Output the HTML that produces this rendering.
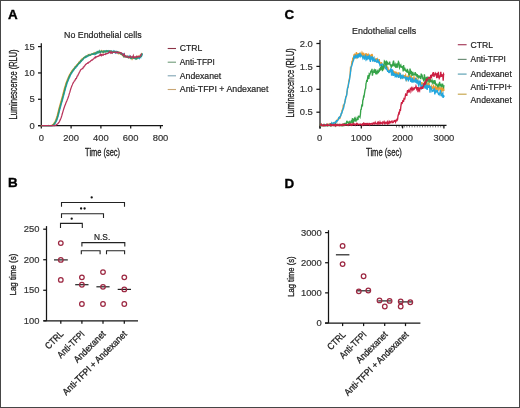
<!DOCTYPE html>
<html><head><meta charset="utf-8"><style>
html,body{margin:0;padding:0;background:#fff;}
body{width:520px;height:408px;overflow:hidden;}
svg{display:block;will-change:transform;}
text{font-family:"Liberation Sans", sans-serif;}
</style></head><body>
<svg width="520" height="408" viewBox="0 0 520 408">
<rect x="0" y="0" width="520" height="408" fill="#fff"/>
<text x="8.0" y="18.8" font-size="13.4" text-anchor="start" font-weight="bold" fill="#000" stroke="#000" stroke-width="0.35">A</text>
<text x="102.8" y="37.8" font-size="9.7" text-anchor="middle" font-weight="normal" fill="#222" textLength="77.5" lengthAdjust="spacingAndGlyphs" stroke="#222" stroke-width="0.2">No Endothelial cells</text>
<line x1="41.3" y1="43.3" x2="41.3" y2="126.19999999999999" stroke="#151515" stroke-width="1.25"/>
<line x1="38.0" y1="125.6" x2="41.3" y2="125.6" stroke="#151515" stroke-width="1.25"/>
<text x="34.8" y="128.79999999999998" font-size="9.4" text-anchor="end" font-weight="normal" fill="#333" stroke="#333" stroke-width="0.2">0</text>
<line x1="38.0" y1="99.26666666666667" x2="41.3" y2="99.26666666666667" stroke="#151515" stroke-width="1.25"/>
<text x="34.8" y="102.46666666666667" font-size="9.4" text-anchor="end" font-weight="normal" fill="#333" stroke="#333" stroke-width="0.2">5</text>
<line x1="38.0" y1="72.93333333333334" x2="41.3" y2="72.93333333333334" stroke="#151515" stroke-width="1.25"/>
<text x="34.8" y="76.13333333333334" font-size="9.4" text-anchor="end" font-weight="normal" fill="#333" stroke="#333" stroke-width="0.2">10</text>
<line x1="38.0" y1="46.599999999999994" x2="41.3" y2="46.599999999999994" stroke="#151515" stroke-width="1.25"/>
<text x="34.8" y="49.8" font-size="9.4" text-anchor="end" font-weight="normal" fill="#333" stroke="#333" stroke-width="0.2">15</text>
<line x1="38" y1="125.6" x2="163" y2="125.6" stroke="#151515" stroke-width="1.25"/>
<line x1="41.3" y1="125.6" x2="41.3" y2="128.6" stroke="#151515" stroke-width="1.25"/>
<text x="41.3" y="140.7" font-size="9.4" text-anchor="middle" font-weight="normal" fill="#333" stroke="#333" stroke-width="0.2">0</text>
<line x1="71.1" y1="125.6" x2="71.1" y2="128.6" stroke="#151515" stroke-width="1.25"/>
<text x="71.1" y="140.7" font-size="9.4" text-anchor="middle" font-weight="normal" fill="#333" stroke="#333" stroke-width="0.2">200</text>
<line x1="100.9" y1="125.6" x2="100.9" y2="128.6" stroke="#151515" stroke-width="1.25"/>
<text x="100.9" y="140.7" font-size="9.4" text-anchor="middle" font-weight="normal" fill="#333" stroke="#333" stroke-width="0.2">400</text>
<line x1="130.7" y1="125.6" x2="130.7" y2="128.6" stroke="#151515" stroke-width="1.25"/>
<text x="130.7" y="140.7" font-size="9.4" text-anchor="middle" font-weight="normal" fill="#333" stroke="#333" stroke-width="0.2">600</text>
<line x1="160.5" y1="125.6" x2="160.5" y2="128.6" stroke="#151515" stroke-width="1.25"/>
<text x="160.5" y="140.7" font-size="9.4" text-anchor="middle" font-weight="normal" fill="#333" stroke="#333" stroke-width="0.2">800</text>
<text x="102.6" y="155.6" font-size="10.6" text-anchor="middle" font-weight="normal" fill="#222" textLength="35" lengthAdjust="spacingAndGlyphs" stroke="#222" stroke-width="0.32">Time (sec)</text>
<text x="16.7" y="84.4" font-size="10.2" text-anchor="middle" font-weight="normal" fill="#222" textLength="70" lengthAdjust="spacingAndGlyphs" transform="rotate(-90 16.7 84.4)" stroke="#222" stroke-width="0.32">Luminescence (RLU)</text>
<path d="M40.70,125.60 L41.20,125.60 L41.70,125.60 L42.20,125.59 L42.70,125.60 L43.20,125.60 L43.70,125.59 L44.20,125.60 L44.70,125.60 L45.20,125.60 L45.70,125.60 L46.20,125.60 L46.70,125.59 L47.20,125.60 L47.70,125.59 L48.20,125.60 L48.70,125.60 L49.20,125.59 L49.70,125.58 L50.20,125.59 L50.70,125.60 L51.20,125.51 L51.70,125.40 L52.20,125.12 L52.70,124.59 L53.20,124.16 L53.70,123.67 L54.20,122.99 L54.70,122.23 L55.20,121.26 L55.70,120.22 L56.20,118.69 L56.70,117.22 L57.20,115.68 L57.70,113.68 L58.20,111.70 L58.70,109.60 L59.20,107.58 L59.70,105.91 L60.20,104.13 L60.70,102.22 L61.20,100.52 L61.70,98.83 L62.20,96.94 L62.70,95.14 L63.20,93.17 L63.70,91.18 L64.20,89.21 L64.70,87.54 L65.20,85.87 L65.70,84.17 L66.20,82.51 L66.70,81.44 L67.20,79.96 L67.70,78.98 L68.20,77.46 L68.70,76.71 L69.20,75.52 L69.70,74.35 L70.20,73.65 L70.70,72.89 L71.20,72.16 L71.70,71.17 L72.20,70.47 L72.70,70.07 L73.20,69.25 L73.70,68.75 L74.20,68.22 L74.70,67.04 L75.20,66.86 L75.70,66.50 L76.20,65.55 L76.70,64.86 L77.20,64.68 L77.70,63.99 L78.20,63.59 L78.70,62.71 L79.20,61.85 L79.70,61.66 L80.20,61.02 L80.70,60.82 L81.20,60.13 L81.70,59.11 L82.20,58.71 L82.70,58.80 L83.20,58.29 L83.70,57.50 L84.20,57.32 L84.70,57.13 L85.20,56.86 L85.70,56.74 L86.20,56.34 L86.70,56.02 L87.20,55.76 L87.70,55.96 L88.20,54.69 L88.70,55.17 L89.20,55.03 L89.70,54.36 L90.20,54.76 L90.70,54.25 L91.20,54.59 L91.70,54.09 L92.20,54.20 L92.70,54.23 L93.20,53.77 L93.70,53.15 L94.20,52.75 L94.70,53.77 L95.20,52.93 L95.70,52.57 L96.20,52.74 L96.70,52.48 L97.20,52.75 L97.70,52.33 L98.20,52.22 L98.70,51.83 L99.20,52.19 L99.70,51.50 L100.20,52.07 L100.70,52.33 L101.20,51.02 L101.70,50.56 L102.20,51.75 L102.70,52.48 L103.20,51.00 L103.70,50.86 L104.20,51.58 L104.70,50.96 L105.20,51.07 L105.70,51.12 L106.20,51.48 L106.70,51.10 L107.20,51.40 L107.70,51.23 L108.20,50.99 L108.70,51.25 L109.20,51.02 L109.70,51.47 L110.20,51.03 L110.70,51.09 L111.20,52.23 L111.70,51.64 L112.20,51.70 L112.70,52.00 L113.20,51.67 L113.70,51.82 L114.20,52.18 L114.70,52.18 L115.20,51.63 L115.70,52.59 L116.20,52.07 L116.70,51.97 L117.20,52.16 L117.70,52.52 L118.20,53.56 L118.70,52.47 L119.20,53.23 L119.70,52.42 L120.20,53.61 L120.70,54.29 L121.20,54.10 L121.70,54.26 L122.20,54.99 L122.70,55.53 L123.20,55.83 L123.70,56.70 L124.20,56.14 L124.70,55.97 L125.20,56.35 L125.70,56.52 L126.20,56.72 L126.70,56.76 L127.20,56.93 L127.70,56.15 L128.20,57.38 L128.70,56.79 L129.20,56.58 L129.70,57.51 L130.20,57.90 L130.70,57.59 L131.20,57.52 L131.70,57.08 L132.20,58.97 L132.70,58.12 L133.20,57.24 L133.70,57.50 L134.20,58.00 L134.70,57.29 L135.20,58.18 L135.70,57.89 L136.20,58.69 L136.70,58.52 L137.20,56.65 L137.70,57.85 L138.20,56.81 L138.70,57.86 L139.20,57.03 L139.70,56.72 L140.20,55.31 L140.70,56.30 L141.20,55.40 L141.70,52.87" fill="none" stroke="#eb9d33" stroke-width="1.3"/>
<path d="M41.80,125.60 L42.30,125.60 L42.80,125.60 L43.30,125.58 L43.80,125.60 L44.30,125.60 L44.80,125.60 L45.30,125.60 L45.80,125.60 L46.30,125.59 L46.80,125.60 L47.30,125.59 L47.80,125.59 L48.30,125.58 L48.80,125.60 L49.30,125.60 L49.80,125.60 L50.30,125.58 L50.80,125.60 L51.30,125.57 L51.80,125.60 L52.30,125.53 L52.80,125.36 L53.30,125.09 L53.80,124.66 L54.30,124.28 L54.80,123.78 L55.30,122.93 L55.80,122.12 L56.30,121.16 L56.80,120.16 L57.30,118.77 L57.80,117.33 L58.30,115.59 L58.80,113.65 L59.30,111.67 L59.80,109.63 L60.30,107.82 L60.80,105.78 L61.30,104.07 L61.80,102.38 L62.30,100.82 L62.80,98.74 L63.30,96.91 L63.80,95.08 L64.30,93.29 L64.80,91.14 L65.30,89.48 L65.80,87.16 L66.30,85.92 L66.80,84.30 L67.30,82.40 L67.80,81.35 L68.30,80.27 L68.80,78.85 L69.30,77.85 L69.80,77.01 L70.30,75.58 L70.80,74.54 L71.30,73.55 L71.80,73.02 L72.30,72.06 L72.80,71.34 L73.30,70.68 L73.80,70.18 L74.30,69.11 L74.80,68.34 L75.30,67.48 L75.80,67.71 L76.30,66.82 L76.80,66.58 L77.30,65.62 L77.80,64.87 L78.30,64.61 L78.80,63.90 L79.30,63.03 L79.80,62.56 L80.30,62.71 L80.80,61.78 L81.30,61.26 L81.80,60.53 L82.30,59.89 L82.80,59.81 L83.30,59.02 L83.80,58.33 L84.30,58.06 L84.80,57.42 L85.30,57.38 L85.80,57.34 L86.30,56.46 L86.80,56.92 L87.30,56.05 L87.80,56.10 L88.30,55.57 L88.80,55.55 L89.30,55.43 L89.80,55.07 L90.30,54.78 L90.80,54.60 L91.30,54.36 L91.80,53.93 L92.30,54.21 L92.80,54.27 L93.30,54.29 L93.80,54.03 L94.30,54.52 L94.80,53.58 L95.30,53.13 L95.80,53.83 L96.30,52.58 L96.80,53.19 L97.30,52.32 L97.80,52.69 L98.30,51.66 L98.80,52.67 L99.30,52.15 L99.80,51.73 L100.30,52.68 L100.80,52.21 L101.30,51.82 L101.80,51.41 L102.30,51.61 L102.80,51.49 L103.30,51.79 L103.80,51.77 L104.30,51.13 L104.80,51.15 L105.30,51.12 L105.80,50.75 L106.30,51.04 L106.80,51.23 L107.30,51.55 L107.80,51.82 L108.30,50.94 L108.80,51.54 L109.30,51.16 L109.80,52.26 L110.30,51.40 L110.80,51.68 L111.30,51.11 L111.80,51.21 L112.30,51.69 L112.80,51.49 L113.30,51.87 L113.80,51.11 L114.30,52.14 L114.80,51.53 L115.30,52.74 L115.80,51.94 L116.30,52.62 L116.80,51.61 L117.30,52.52 L117.80,52.05 L118.30,52.35 L118.80,52.71 L119.30,52.70 L119.80,53.11 L120.30,53.50 L120.80,53.66 L121.30,53.57 L121.80,53.28 L122.30,53.84 L122.80,54.45 L123.30,53.92 L123.80,55.56 L124.30,55.41 L124.80,55.69 L125.30,56.48 L125.80,56.55 L126.30,56.51 L126.80,56.09 L127.30,56.82 L127.80,56.93 L128.30,56.44 L128.80,57.41 L129.30,57.23 L129.80,56.14 L130.30,57.19 L130.80,56.61 L131.30,57.82 L131.80,57.74 L132.30,56.92 L132.80,57.10 L133.30,57.66 L133.80,57.58 L134.30,58.51 L134.80,58.23 L135.30,57.82 L135.80,58.32 L136.30,57.11 L136.80,58.26 L137.30,58.52 L137.80,57.96 L138.30,57.62 L138.80,58.10 L139.30,58.56 L139.80,57.42 L140.30,56.39 L140.80,57.17 L141.30,54.91 L141.80,55.65 L142.30,54.11 L142.80,53.86" fill="none" stroke="#22a6de" stroke-width="1.3"/>
<path d="M41.30,125.60 L41.80,125.59 L42.30,125.60 L42.80,125.60 L43.30,125.60 L43.80,125.60 L44.30,125.58 L44.80,125.60 L45.30,125.59 L45.80,125.60 L46.30,125.60 L46.80,125.59 L47.30,125.59 L47.80,125.58 L48.30,125.57 L48.80,125.59 L49.30,125.60 L49.80,125.59 L50.30,125.60 L50.80,125.59 L51.30,125.60 L51.80,125.58 L52.30,125.37 L52.80,125.05 L53.30,124.70 L53.80,124.26 L54.30,123.77 L54.80,123.00 L55.30,122.21 L55.80,121.31 L56.30,120.04 L56.80,118.74 L57.30,117.31 L57.80,115.58 L58.30,113.64 L58.80,111.70 L59.30,109.38 L59.80,107.83 L60.30,105.80 L60.80,103.94 L61.30,102.38 L61.80,100.68 L62.30,98.78 L62.80,96.91 L63.30,95.16 L63.80,93.15 L64.30,91.38 L64.80,89.39 L65.30,87.49 L65.80,85.91 L66.30,84.09 L66.80,82.49 L67.30,81.42 L67.80,80.15 L68.30,78.79 L68.80,77.51 L69.30,76.59 L69.80,75.03 L70.30,74.73 L70.80,73.81 L71.30,72.54 L71.80,72.12 L72.30,71.17 L72.80,70.87 L73.30,69.58 L73.80,69.15 L74.30,68.86 L74.80,68.32 L75.30,66.91 L75.80,66.69 L76.30,66.28 L76.80,65.47 L77.30,65.45 L77.80,64.19 L78.30,64.01 L78.80,63.09 L79.30,63.16 L79.80,62.23 L80.30,61.59 L80.80,60.68 L81.30,61.07 L81.80,60.29 L82.30,59.77 L82.80,59.37 L83.30,58.65 L83.80,57.91 L84.30,57.45 L84.80,57.08 L85.30,57.41 L85.80,56.27 L86.30,56.29 L86.80,56.16 L87.30,56.12 L87.80,56.02 L88.30,55.22 L88.80,54.85 L89.30,55.21 L89.80,55.42 L90.30,55.08 L90.80,54.72 L91.30,54.36 L91.80,54.40 L92.30,54.05 L92.80,54.25 L93.30,53.52 L93.80,53.68 L94.30,53.43 L94.80,53.50 L95.30,53.22 L95.80,53.92 L96.30,53.39 L96.80,53.25 L97.30,51.77 L97.80,52.30 L98.30,52.08 L98.80,52.42 L99.30,51.21 L99.80,52.48 L100.30,52.33 L100.80,51.28 L101.30,51.32 L101.80,51.31 L102.30,51.58 L102.80,51.76 L103.30,52.28 L103.80,51.32 L104.30,51.69 L104.80,51.40 L105.30,52.03 L105.80,51.59 L106.30,51.83 L106.80,50.81 L107.30,51.19 L107.80,50.94 L108.30,51.94 L108.80,51.62 L109.30,51.26 L109.80,51.23 L110.30,51.67 L110.80,51.21 L111.30,51.16 L111.80,51.81 L112.30,52.72 L112.80,51.61 L113.30,51.54 L113.80,51.35 L114.30,51.34 L114.80,52.22 L115.30,52.43 L115.80,52.14 L116.30,52.37 L116.80,52.38 L117.30,52.50 L117.80,51.89 L118.30,52.49 L118.80,52.89 L119.30,52.64 L119.80,52.95 L120.30,53.00 L120.80,53.46 L121.30,54.27 L121.80,54.02 L122.30,54.47 L122.80,55.25 L123.30,55.51 L123.80,56.30 L124.30,54.85 L124.80,56.44 L125.30,56.02 L125.80,56.47 L126.30,56.94 L126.80,57.17 L127.30,57.26 L127.80,56.92 L128.30,57.67 L128.80,56.86 L129.30,57.00 L129.80,57.51 L130.30,56.95 L130.80,58.30 L131.30,57.84 L131.80,58.47 L132.30,57.51 L132.80,57.43 L133.30,57.78 L133.80,58.13 L134.30,57.59 L134.80,58.14 L135.30,58.03 L135.80,58.87 L136.30,57.79 L136.80,58.61 L137.30,57.74 L137.80,57.50 L138.30,57.48 L138.80,57.01 L139.30,57.39 L139.80,57.45 L140.30,56.53 L140.80,56.15 L141.30,56.21 L141.80,54.53 L142.30,53.50" fill="none" stroke="#35986a" stroke-width="1.4"/>
<path d="M41.30,125.60 L41.80,125.60 L42.30,125.60 L42.80,125.60 L43.30,125.59 L43.80,125.60 L44.30,125.59 L44.80,125.60 L45.30,125.58 L45.80,125.60 L46.30,125.60 L46.80,125.60 L47.30,125.60 L47.80,125.60 L48.30,125.56 L48.80,125.60 L49.30,125.54 L49.80,125.60 L50.30,125.59 L50.80,125.57 L51.30,125.58 L51.80,125.57 L52.30,125.60 L52.80,125.60 L53.30,125.60 L53.80,125.52 L54.30,125.60 L54.80,125.52 L55.30,125.49 L55.80,125.13 L56.30,124.95 L56.80,124.61 L57.30,124.04 L57.80,123.69 L58.30,123.05 L58.80,122.54 L59.30,121.79 L59.80,120.70 L60.30,119.64 L60.80,118.47 L61.30,117.18 L61.80,115.65 L62.30,113.77 L62.80,112.10 L63.30,110.40 L63.80,108.76 L64.30,107.25 L64.80,105.83 L65.30,104.84 L65.80,103.23 L66.30,102.10 L66.80,101.04 L67.30,99.62 L67.80,98.44 L68.30,97.09 L68.80,95.69 L69.30,93.61 L69.80,92.40 L70.30,90.31 L70.80,88.76 L71.30,87.40 L71.80,86.00 L72.30,84.88 L72.80,83.64 L73.30,82.69 L73.80,82.00 L74.30,80.98 L74.80,80.76 L75.30,79.54 L75.80,78.63 L76.30,78.59 L76.80,77.19 L77.30,76.01 L77.80,75.81 L78.30,74.26 L78.80,73.66 L79.30,72.27 L79.80,71.59 L80.30,70.44 L80.80,69.67 L81.30,69.28 L81.80,68.96 L82.30,68.66 L82.80,68.58 L83.30,67.06 L83.80,67.12 L84.30,66.13 L84.80,65.76 L85.30,64.85 L85.80,64.35 L86.30,64.09 L86.80,63.50 L87.30,63.43 L87.80,62.80 L88.30,63.03 L88.80,62.30 L89.30,61.94 L89.80,61.90 L90.30,61.34 L90.80,60.78 L91.30,60.39 L91.80,60.00 L92.30,60.03 L92.80,59.54 L93.30,59.00 L93.80,58.76 L94.30,57.90 L94.80,57.93 L95.30,56.90 L95.80,57.63 L96.30,56.89 L96.80,56.68 L97.30,56.62 L97.80,56.17 L98.30,55.87 L98.80,56.22 L99.30,55.58 L99.80,54.97 L100.30,55.33 L100.80,54.29 L101.30,55.48 L101.80,54.60 L102.30,54.55 L102.80,55.33 L103.30,55.16 L103.80,54.21 L104.30,54.30 L104.80,54.36 L105.30,54.49 L105.80,53.62 L106.30,53.60 L106.80,53.93 L107.30,53.41 L107.80,53.48 L108.30,53.29 L108.80,52.44 L109.30,52.45 L109.80,51.60 L110.30,52.53 L110.80,53.15 L111.30,52.05 L111.80,53.02 L112.30,52.89 L112.80,52.41 L113.30,52.40 L113.80,52.41 L114.30,51.99 L114.80,52.23 L115.30,52.33 L115.80,52.63 L116.30,52.73 L116.80,52.08 L117.30,52.80 L117.80,52.12 L118.30,52.42 L118.80,52.70 L119.30,52.60 L119.80,52.63 L120.30,52.92 L120.80,52.68 L121.30,52.83 L121.80,53.31 L122.30,54.20 L122.80,54.16 L123.30,55.52 L123.80,55.20 L124.30,54.17 L124.80,55.70 L125.30,56.95 L125.80,56.39 L126.30,56.31 L126.80,56.18 L127.30,57.27 L127.80,57.19 L128.30,57.09 L128.80,57.02 L129.30,57.52 L129.80,57.26 L130.30,56.31 L130.80,57.27 L131.30,57.01 L131.80,56.90 L132.30,57.34 L132.80,57.01 L133.30,55.62 L133.80,57.79 L134.30,57.56 L134.80,57.03 L135.30,56.94 L135.80,57.23 L136.30,56.48 L136.80,57.21 L137.30,56.87 L137.80,56.71 L138.30,56.30 L138.80,56.23 L139.30,56.84 L139.80,56.63 L140.30,55.83 L140.80,55.22 L141.30,54.20 L141.80,54.40" fill="none" stroke="#b8325a" stroke-width="1.25"/>
<line x1="167.7" y1="48.5" x2="176.0" y2="48.5" stroke="#8c3346" stroke-width="1.1"/>
<text x="179.8" y="51.3" font-size="9.7" text-anchor="start" font-weight="normal" fill="#222" textLength="22.5" lengthAdjust="spacingAndGlyphs" stroke="#222" stroke-width="0.2">CTRL</text>
<line x1="167.7" y1="62.2" x2="176.0" y2="62.2" stroke="#6f9b78" stroke-width="1.1"/>
<text x="179.8" y="65.0" font-size="9.7" text-anchor="start" font-weight="normal" fill="#222" textLength="35.0" lengthAdjust="spacingAndGlyphs" stroke="#222" stroke-width="0.2">Anti-TFPI</text>
<line x1="167.7" y1="75.8" x2="176.0" y2="75.8" stroke="#7fa3b3" stroke-width="1.1"/>
<text x="179.8" y="78.6" font-size="9.7" text-anchor="start" font-weight="normal" fill="#222" textLength="41.4" lengthAdjust="spacingAndGlyphs" stroke="#222" stroke-width="0.2">Andexanet</text>
<line x1="167.7" y1="89.5" x2="176.0" y2="89.5" stroke="#c9a674" stroke-width="1.1"/>
<text x="179.8" y="92.3" font-size="9.7" text-anchor="start" font-weight="normal" fill="#222" textLength="88.6" lengthAdjust="spacingAndGlyphs" stroke="#222" stroke-width="0.2">Anti-TFPI + Andexanet</text>
<text x="284.4" y="19.3" font-size="13.4" text-anchor="start" font-weight="bold" fill="#000" stroke="#000" stroke-width="0.35">C</text>
<text x="384.1" y="34.4" font-size="9.7" text-anchor="middle" font-weight="normal" fill="#222" textLength="64" lengthAdjust="spacingAndGlyphs" stroke="#222" stroke-width="0.2">Endothelial cells</text>
<line x1="320.0" y1="40.1" x2="320.0" y2="128.4" stroke="#151515" stroke-width="1.25"/>
<line x1="316.4" y1="112.19999999999999" x2="320.0" y2="112.19999999999999" stroke="#151515" stroke-width="1.25"/>
<text x="312.8" y="115.29999999999998" font-size="9.4" text-anchor="end" font-weight="normal" fill="#333" stroke="#333" stroke-width="0.2">0.5</text>
<line x1="316.4" y1="89.3" x2="320.0" y2="89.3" stroke="#151515" stroke-width="1.25"/>
<text x="312.8" y="92.39999999999999" font-size="9.4" text-anchor="end" font-weight="normal" fill="#333" stroke="#333" stroke-width="0.2">1.0</text>
<line x1="316.4" y1="66.4" x2="320.0" y2="66.4" stroke="#151515" stroke-width="1.25"/>
<text x="312.8" y="69.5" font-size="9.4" text-anchor="end" font-weight="normal" fill="#333" stroke="#333" stroke-width="0.2">1.5</text>
<line x1="316.4" y1="43.5" x2="320.0" y2="43.5" stroke="#151515" stroke-width="1.25"/>
<text x="312.8" y="46.6" font-size="9.4" text-anchor="end" font-weight="normal" fill="#333" stroke="#333" stroke-width="0.2">2.0</text>
<line x1="320.0" y1="125.4" x2="446.5" y2="125.4" stroke="#151515" stroke-width="1.25"/>
<line x1="320.0" y1="125.4" x2="320.0" y2="128.4" stroke="#151515" stroke-width="1.25"/>
<text x="319.7" y="140.6" font-size="9.4" text-anchor="middle" font-weight="normal" fill="#333" stroke="#333" stroke-width="0.2">0</text>
<line x1="361.3" y1="125.4" x2="361.3" y2="128.4" stroke="#151515" stroke-width="1.25"/>
<text x="361.3" y="140.6" font-size="9.4" text-anchor="middle" font-weight="normal" fill="#333" stroke="#333" stroke-width="0.2">1000</text>
<line x1="402.6" y1="125.4" x2="402.6" y2="128.4" stroke="#151515" stroke-width="1.25"/>
<text x="402.6" y="140.6" font-size="9.4" text-anchor="middle" font-weight="normal" fill="#333" stroke="#333" stroke-width="0.2">2000</text>
<line x1="443.9" y1="125.4" x2="443.9" y2="128.4" stroke="#151515" stroke-width="1.25"/>
<text x="443.9" y="140.6" font-size="9.4" text-anchor="middle" font-weight="normal" fill="#333" stroke="#333" stroke-width="0.2">3000</text>
<text x="383.9" y="155.6" font-size="10.6" text-anchor="middle" font-weight="normal" fill="#222" textLength="35.7" lengthAdjust="spacingAndGlyphs" stroke="#222" stroke-width="0.32">Time (sec)</text>
<text x="293.8" y="82.9" font-size="10.2" text-anchor="middle" font-weight="normal" fill="#222" textLength="69.2" lengthAdjust="spacingAndGlyphs" transform="rotate(-90 293.8 82.9)" stroke="#222" stroke-width="0.32">Luminescence (RLU)</text>
<line x1="396" y1="126.8" x2="444" y2="126.8" stroke="#444" stroke-width="1" stroke-dasharray="1 1.6"/>
<path d="M320.00,125.41 L320.40,125.60 L320.80,125.60 L321.20,125.24 L321.60,125.30 L322.00,125.23 L322.40,125.59 L322.80,125.38 L323.20,125.60 L323.60,124.75 L324.00,125.60 L324.40,125.36 L324.80,125.60 L325.20,125.35 L325.60,125.25 L326.00,125.58 L326.40,125.60 L326.80,125.27 L327.20,125.23 L327.60,125.51 L328.00,124.77 L328.40,124.39 L328.80,125.08 L329.20,124.50 L329.60,123.82 L330.00,124.18 L330.40,124.21 L330.80,123.75 L331.20,123.48 L331.60,124.08 L332.00,124.37 L332.40,123.70 L332.80,123.33 L333.20,123.74 L333.60,123.73 L334.00,123.01 L334.40,123.20 L334.80,123.19 L335.20,122.22 L335.60,121.56 L336.00,121.83 L336.40,121.43 L336.80,121.55 L337.20,119.88 L337.60,119.87 L338.00,119.37 L338.40,118.41 L338.80,118.99 L339.20,118.69 L339.60,117.28 L340.00,117.76 L340.40,116.52 L340.80,115.40 L341.20,114.16 L341.60,113.37 L342.00,110.43 L342.40,110.57 L342.80,109.27 L343.20,106.04 L343.60,106.46 L344.00,104.64 L344.40,104.24 L344.80,101.71 L345.20,100.55 L345.60,99.25 L346.00,96.27 L346.40,95.87 L346.80,93.09 L347.20,91.49 L347.60,88.06 L348.00,87.48 L348.40,84.48 L348.80,81.03 L349.20,79.39 L349.60,77.58 L350.00,75.75 L350.40,68.97 L350.80,69.77 L351.20,66.89 L351.60,63.97 L352.00,60.82 L352.40,62.38 L352.80,57.46 L353.20,58.88 L353.60,58.99 L354.00,54.24 L354.40,55.58 L354.80,53.75 L355.20,55.60 L355.60,57.12 L356.00,57.63 L356.40,52.10 L356.80,53.70 L357.20,55.43 L357.60,56.61 L358.00,54.92 L358.40,53.22 L358.80,54.70 L359.20,54.27 L359.60,54.03 L360.00,53.30 L360.40,54.94 L360.80,54.85 L361.20,54.31 L361.60,54.17 L362.00,52.69 L362.40,53.90 L362.80,56.41 L363.20,54.46 L363.60,52.73 L364.00,56.83 L364.40,55.75 L364.80,58.12 L365.20,55.24 L365.60,54.56 L366.00,53.21 L366.40,57.35 L366.80,59.28 L367.20,54.43 L367.60,54.79 L368.00,56.72 L368.40,54.74 L368.80,55.67 L369.20,55.66 L369.60,56.56 L370.00,58.01 L370.40,56.54 L370.80,58.00 L371.20,56.18 L371.60,57.47 L372.00,54.02 L372.40,55.26 L372.80,58.85 L373.20,57.05 L373.60,59.06 L374.00,59.28 L374.40,60.71 L374.80,60.21 L375.20,60.79 L375.60,59.38 L376.00,58.77 L376.40,59.00 L376.80,59.65 L377.20,58.97 L377.60,60.13 L378.00,61.11 L378.40,61.92 L378.80,61.32 L379.20,59.21 L379.60,62.30 L380.00,63.04 L380.40,64.63 L380.80,64.16 L381.20,62.60 L381.60,62.78 L382.00,67.25 L382.40,65.66 L382.80,67.62 L383.20,68.41 L383.60,64.22 L384.00,66.39 L384.40,66.83 L384.80,67.32 L385.20,67.62 L385.60,67.43 L386.00,67.71 L386.40,65.45 L386.80,67.84 L387.20,67.27 L387.60,68.95 L388.00,68.35 L388.40,70.34 L388.80,70.95 L389.20,70.44 L389.60,70.73 L390.00,70.64 L390.40,70.04 L390.80,70.72 L391.20,70.45 L391.60,72.07 L392.00,71.72 L392.40,72.85 L392.80,70.09 L393.20,73.82 L393.60,71.46 L394.00,71.74 L394.40,72.80 L394.80,72.44 L395.20,73.98 L395.60,72.80 L396.00,72.19 L396.40,72.71 L396.80,76.28 L397.20,74.43 L397.60,72.66 L398.00,74.68 L398.40,72.35 L398.80,77.84 L399.20,72.70 L399.60,76.06 L400.00,76.31 L400.40,73.26 L400.80,76.19 L401.20,77.43 L401.60,76.70 L402.00,76.47 L402.40,77.67 L402.80,76.49 L403.20,76.87 L403.60,76.22 L404.00,77.53 L404.40,75.09 L404.80,77.97 L405.20,75.97 L405.60,75.12 L406.00,77.56 L406.40,79.80 L406.80,78.73 L407.20,76.44 L407.60,78.52 L408.00,76.77 L408.40,77.42 L408.80,77.89 L409.20,74.10 L409.60,78.29 L410.00,76.43 L410.40,77.09 L410.80,75.94 L411.20,75.99 L411.60,77.05 L412.00,80.05 L412.40,81.56 L412.80,78.95 L413.20,80.93 L413.60,78.89 L414.00,76.39 L414.40,79.94 L414.80,80.63 L415.20,79.40 L415.60,80.79 L416.00,81.44 L416.40,79.29 L416.80,78.48 L417.20,80.73 L417.60,80.94 L418.00,80.89 L418.40,83.27 L418.80,84.66 L419.20,81.32 L419.60,83.32 L420.00,83.88 L420.40,83.67 L420.80,84.39 L421.20,82.19 L421.60,84.22 L422.00,86.51 L422.40,84.66 L422.80,82.48 L423.20,84.67 L423.60,85.91 L424.00,84.58 L424.40,83.19 L424.80,86.82 L425.20,82.33 L425.60,85.37 L426.00,84.64 L426.40,82.82 L426.80,86.96 L427.20,85.64 L427.60,83.26 L428.00,86.33 L428.40,84.75 L428.80,82.43 L429.20,84.59 L429.60,86.32 L430.00,87.09 L430.40,86.46 L430.80,86.41 L431.20,87.29 L431.60,86.31 L432.00,88.80 L432.40,87.25 L432.80,87.66 L433.20,88.24 L433.60,85.73 L434.00,86.48 L434.40,90.40 L434.80,88.56 L435.20,87.68 L435.60,88.87 L436.00,87.61 L436.40,89.00 L436.80,87.52 L437.20,89.19 L437.60,86.14 L438.00,91.12 L438.40,88.08 L438.80,86.36 L439.20,88.72 L439.60,88.55 L440.00,89.51 L440.40,87.39 L440.80,90.07 L441.20,95.61 L441.60,87.38 L442.00,90.20 L442.40,89.17 L442.80,90.10 L443.20,86.77 L443.60,87.97 L444.00,90.78" fill="none" stroke="#eb9d33" stroke-width="1.35"/>
<path d="M320.00,125.40 L320.40,125.60 L320.80,125.60 L321.20,125.60 L321.60,125.60 L322.00,125.00 L322.40,125.19 L322.80,124.95 L323.20,125.36 L323.60,125.60 L324.00,125.39 L324.40,125.58 L324.80,124.69 L325.20,125.46 L325.60,125.05 L326.00,125.60 L326.40,125.60 L326.80,125.60 L327.20,125.27 L327.60,125.48 L328.00,125.42 L328.40,124.89 L328.80,124.70 L329.20,124.74 L329.60,124.40 L330.00,124.28 L330.40,124.30 L330.80,123.97 L331.20,124.54 L331.60,123.30 L332.00,124.33 L332.40,123.51 L332.80,123.43 L333.20,122.88 L333.60,123.30 L334.00,123.03 L334.40,123.02 L334.80,122.36 L335.20,122.38 L335.60,122.96 L336.00,121.86 L336.40,120.98 L336.80,121.47 L337.20,120.52 L337.60,120.58 L338.00,120.20 L338.40,119.18 L338.80,117.79 L339.20,118.17 L339.60,118.05 L340.00,116.70 L340.40,116.28 L340.80,115.63 L341.20,113.51 L341.60,113.56 L342.00,112.60 L342.40,110.94 L342.80,109.75 L343.20,108.44 L343.60,108.16 L344.00,105.15 L344.40,103.73 L344.80,102.93 L345.20,100.06 L345.60,97.84 L346.00,96.80 L346.40,96.29 L346.80,94.50 L347.20,90.26 L347.60,87.65 L348.00,87.11 L348.40,84.91 L348.80,82.65 L349.20,81.04 L349.60,79.20 L350.00,75.49 L350.40,73.58 L350.80,69.03 L351.20,66.66 L351.60,66.42 L352.00,65.07 L352.40,63.50 L352.80,61.91 L353.20,60.99 L353.60,60.06 L354.00,55.70 L354.40,56.62 L354.80,57.94 L355.20,57.84 L355.60,54.59 L356.00,58.18 L356.40,55.73 L356.80,55.91 L357.20,56.56 L357.60,57.19 L358.00,54.04 L358.40,57.48 L358.80,56.16 L359.20,54.96 L359.60,55.69 L360.00,52.97 L360.40,55.19 L360.80,56.40 L361.20,55.15 L361.60,55.73 L362.00,56.04 L362.40,56.38 L362.80,57.84 L363.20,56.40 L363.60,56.14 L364.00,57.38 L364.40,59.69 L364.80,56.26 L365.20,57.59 L365.60,54.63 L366.00,58.98 L366.40,58.07 L366.80,59.15 L367.20,57.22 L367.60,55.88 L368.00,58.81 L368.40,58.72 L368.80,56.44 L369.20,55.65 L369.60,58.58 L370.00,57.77 L370.40,61.98 L370.80,57.34 L371.20,57.61 L371.60,58.39 L372.00,56.27 L372.40,57.61 L372.80,61.60 L373.20,59.19 L373.60,58.71 L374.00,57.95 L374.40,60.94 L374.80,61.29 L375.20,60.93 L375.60,60.20 L376.00,61.50 L376.40,61.87 L376.80,60.53 L377.20,62.76 L377.60,58.92 L378.00,60.44 L378.40,62.20 L378.80,62.77 L379.20,61.44 L379.60,63.98 L380.00,65.36 L380.40,64.72 L380.80,64.66 L381.20,65.86 L381.60,65.51 L382.00,63.46 L382.40,65.20 L382.80,67.80 L383.20,64.41 L383.60,66.57 L384.00,66.21 L384.40,65.75 L384.80,65.90 L385.20,67.94 L385.60,68.60 L386.00,68.92 L386.40,66.54 L386.80,68.65 L387.20,69.96 L387.60,71.22 L388.00,71.12 L388.40,71.67 L388.80,72.38 L389.20,72.24 L389.60,69.97 L390.00,71.58 L390.40,70.63 L390.80,68.26 L391.20,69.59 L391.60,75.73 L392.00,70.95 L392.40,69.42 L392.80,72.26 L393.20,75.81 L393.60,73.59 L394.00,74.54 L394.40,73.69 L394.80,74.19 L395.20,76.53 L395.60,75.97 L396.00,74.75 L396.40,76.46 L396.80,76.91 L397.20,75.01 L397.60,75.94 L398.00,76.07 L398.40,74.76 L398.80,77.82 L399.20,75.87 L399.60,75.30 L400.00,73.76 L400.40,74.55 L400.80,79.15 L401.20,74.99 L401.60,77.61 L402.00,76.42 L402.40,77.92 L402.80,78.14 L403.20,76.00 L403.60,76.86 L404.00,77.57 L404.40,77.67 L404.80,77.52 L405.20,77.14 L405.60,78.74 L406.00,79.93 L406.40,78.77 L406.80,76.80 L407.20,78.74 L407.60,78.31 L408.00,79.08 L408.40,81.45 L408.80,78.25 L409.20,78.71 L409.60,77.43 L410.00,78.53 L410.40,78.21 L410.80,81.87 L411.20,79.89 L411.60,78.60 L412.00,82.81 L412.40,77.67 L412.80,81.40 L413.20,81.85 L413.60,81.33 L414.00,80.18 L414.40,80.63 L414.80,80.52 L415.20,82.60 L415.60,77.75 L416.00,80.96 L416.40,82.29 L416.80,81.33 L417.20,79.53 L417.60,82.34 L418.00,81.71 L418.40,84.47 L418.80,85.65 L419.20,83.65 L419.60,80.54 L420.00,83.58 L420.40,82.56 L420.80,85.38 L421.20,87.23 L421.60,85.14 L422.00,88.16 L422.40,87.48 L422.80,86.31 L423.20,83.91 L423.60,85.85 L424.00,83.46 L424.40,87.75 L424.80,86.40 L425.20,88.64 L425.60,87.01 L426.00,83.47 L426.40,87.93 L426.80,88.56 L427.20,89.93 L427.60,85.71 L428.00,85.94 L428.40,87.74 L428.80,86.03 L429.20,85.65 L429.60,86.29 L430.00,92.62 L430.40,87.43 L430.80,86.99 L431.20,88.15 L431.60,89.12 L432.00,91.50 L432.40,91.16 L432.80,91.13 L433.20,90.11 L433.60,90.53 L434.00,89.43 L434.40,88.21 L434.80,94.39 L435.20,90.42 L435.60,93.10 L436.00,91.06 L436.40,91.63 L436.80,91.69 L437.20,89.79 L437.60,92.13 L438.00,93.05 L438.40,93.96 L438.80,93.54 L439.20,94.58 L439.60,93.50 L440.00,93.14 L440.40,89.97 L440.80,92.54 L441.20,96.23 L441.60,93.95 L442.00,95.25 L442.40,93.68 L442.80,93.05 L443.20,97.82 L443.60,95.10 L444.00,97.18" fill="none" stroke="#22a6de" stroke-width="1.35"/>
<path d="M320.00,125.60 L320.40,124.45 L320.80,125.60 L321.20,125.40 L321.60,125.60 L322.00,125.49 L322.40,125.60 L322.80,125.36 L323.20,125.16 L323.60,125.54 L324.00,125.48 L324.40,125.19 L324.80,125.22 L325.20,125.57 L325.60,125.56 L326.00,125.09 L326.40,125.13 L326.80,124.54 L327.20,125.60 L327.60,125.16 L328.00,125.60 L328.40,125.42 L328.80,125.60 L329.20,125.60 L329.60,125.36 L330.00,125.60 L330.40,124.77 L330.80,125.60 L331.20,124.49 L331.60,125.34 L332.00,125.60 L332.40,125.27 L332.80,124.98 L333.20,124.75 L333.60,124.97 L334.00,125.60 L334.40,125.59 L334.80,124.98 L335.20,124.45 L335.60,125.46 L336.00,124.31 L336.40,124.80 L336.80,124.67 L337.20,125.49 L337.60,125.20 L338.00,125.32 L338.40,125.21 L338.80,124.65 L339.20,125.35 L339.60,125.60 L340.00,124.99 L340.40,125.38 L340.80,124.86 L341.20,125.59 L341.60,125.30 L342.00,125.39 L342.40,124.92 L342.80,125.60 L343.20,124.16 L343.60,124.08 L344.00,123.75 L344.40,124.70 L344.80,123.49 L345.20,123.35 L345.60,124.57 L346.00,124.93 L346.40,124.25 L346.80,120.74 L347.20,122.44 L347.60,122.18 L348.00,121.90 L348.40,122.70 L348.80,125.23 L349.20,122.59 L349.60,121.93 L350.00,123.59 L350.40,122.63 L350.80,122.51 L351.20,121.23 L351.60,121.93 L352.00,122.30 L352.40,118.77 L352.80,118.95 L353.20,122.50 L353.60,121.92 L354.00,119.79 L354.40,118.83 L354.80,119.76 L355.20,118.10 L355.60,119.07 L356.00,121.65 L356.40,119.25 L356.80,120.46 L357.20,118.22 L357.60,118.77 L358.00,119.93 L358.40,115.74 L358.80,116.83 L359.20,116.58 L359.60,116.39 L360.00,117.11 L360.40,114.49 L360.80,109.71 L361.20,109.59 L361.60,106.56 L362.00,104.37 L362.40,106.51 L362.80,99.99 L363.20,99.83 L363.60,96.42 L364.00,96.67 L364.40,93.87 L364.80,91.47 L365.20,89.08 L365.60,88.74 L366.00,83.70 L366.40,82.13 L366.80,79.86 L367.20,81.91 L367.60,78.16 L368.00,75.86 L368.40,75.72 L368.80,79.05 L369.20,74.38 L369.60,75.08 L370.00,73.92 L370.40,72.75 L370.80,71.40 L371.20,71.71 L371.60,71.57 L372.00,68.72 L372.40,75.75 L372.80,73.17 L373.20,71.88 L373.60,71.33 L374.00,70.39 L374.40,72.93 L374.80,71.18 L375.20,72.14 L375.60,69.32 L376.00,71.94 L376.40,74.35 L376.80,70.89 L377.20,72.50 L377.60,71.33 L378.00,72.85 L378.40,72.63 L378.80,70.89 L379.20,69.65 L379.60,70.57 L380.00,69.76 L380.40,68.26 L380.80,69.39 L381.20,68.86 L381.60,66.35 L382.00,67.03 L382.40,71.20 L382.80,67.57 L383.20,66.08 L383.60,69.44 L384.00,64.59 L384.40,61.22 L384.80,61.86 L385.20,62.23 L385.60,64.74 L386.00,65.61 L386.40,60.53 L386.80,65.42 L387.20,61.65 L387.60,63.84 L388.00,64.09 L388.40,64.02 L388.80,63.37 L389.20,63.68 L389.60,61.70 L390.00,63.96 L390.40,65.11 L390.80,65.08 L391.20,67.77 L391.60,65.44 L392.00,64.93 L392.40,66.46 L392.80,64.31 L393.20,61.99 L393.60,60.59 L394.00,66.24 L394.40,65.25 L394.80,65.84 L395.20,64.13 L395.60,65.35 L396.00,67.94 L396.40,65.65 L396.80,63.50 L397.20,64.74 L397.60,67.78 L398.00,64.00 L398.40,61.77 L398.80,62.38 L399.20,64.07 L399.60,67.67 L400.00,66.73 L400.40,65.59 L400.80,64.97 L401.20,67.08 L401.60,67.27 L402.00,66.87 L402.40,67.64 L402.80,67.06 L403.20,71.44 L403.60,64.99 L404.00,69.25 L404.40,67.68 L404.80,70.70 L405.20,69.44 L405.60,70.67 L406.00,71.19 L406.40,70.91 L406.80,72.41 L407.20,68.77 L407.60,72.77 L408.00,71.06 L408.40,72.21 L408.80,74.28 L409.20,73.75 L409.60,75.31 L410.00,68.61 L410.40,70.87 L410.80,74.16 L411.20,70.92 L411.60,72.62 L412.00,75.87 L412.40,74.69 L412.80,71.87 L413.20,74.36 L413.60,74.86 L414.00,74.11 L414.40,74.04 L414.80,74.63 L415.20,72.15 L415.60,75.01 L416.00,73.42 L416.40,75.84 L416.80,76.10 L417.20,74.13 L417.60,76.80 L418.00,76.57 L418.40,76.11 L418.80,77.56 L419.20,76.04 L419.60,76.27 L420.00,77.05 L420.40,77.01 L420.80,79.17 L421.20,73.56 L421.60,77.15 L422.00,74.52 L422.40,77.16 L422.80,78.59 L423.20,78.36 L423.60,80.13 L424.00,79.22 L424.40,74.32 L424.80,77.17 L425.20,81.76 L425.60,81.93 L426.00,79.66 L426.40,77.07 L426.80,83.41 L427.20,76.47 L427.60,80.62 L428.00,80.18 L428.40,80.82 L428.80,78.61 L429.20,80.05 L429.60,82.67 L430.00,80.21 L430.40,78.87 L430.80,81.31 L431.20,81.64 L431.60,81.42 L432.00,80.48 L432.40,82.87 L432.80,81.91 L433.20,80.32 L433.60,82.83 L434.00,82.58 L434.40,83.05 L434.80,80.11 L435.20,81.85 L435.60,84.09 L436.00,85.07 L436.40,84.26 L436.80,84.13 L437.20,85.26 L437.60,85.87 L438.00,87.37 L438.40,85.35 L438.80,83.76 L439.20,85.69 L439.60,81.74 L440.00,85.30 L440.40,84.61 L440.80,85.49 L441.20,86.52 L441.60,85.93 L442.00,83.54 L442.40,85.55 L442.80,84.95 L443.20,86.43 L443.60,87.24 L444.00,85.14" fill="none" stroke="#35a348" stroke-width="1.35"/>
<path d="M320.00,125.60 L320.40,125.00 L320.80,124.75 L321.20,124.20 L321.60,125.23 L322.00,125.60 L322.40,125.37 L322.80,125.55 L323.20,125.60 L323.60,124.97 L324.00,125.60 L324.40,124.95 L324.80,125.46 L325.20,125.60 L325.60,125.24 L326.00,125.33 L326.40,125.06 L326.80,125.40 L327.20,124.36 L327.60,124.98 L328.00,125.60 L328.40,125.32 L328.80,125.12 L329.20,125.37 L329.60,125.38 L330.00,125.26 L330.40,125.44 L330.80,124.47 L331.20,125.43 L331.60,124.88 L332.00,125.50 L332.40,125.14 L332.80,124.71 L333.20,125.10 L333.60,124.69 L334.00,125.56 L334.40,125.10 L334.80,125.48 L335.20,124.60 L335.60,125.60 L336.00,124.95 L336.40,125.60 L336.80,125.44 L337.20,124.57 L337.60,125.19 L338.00,124.80 L338.40,125.22 L338.80,125.60 L339.20,125.33 L339.60,125.49 L340.00,124.46 L340.40,125.08 L340.80,125.13 L341.20,125.46 L341.60,124.66 L342.00,125.19 L342.40,125.11 L342.80,124.20 L343.20,124.41 L343.60,125.08 L344.00,124.31 L344.40,124.28 L344.80,125.25 L345.20,124.95 L345.60,124.69 L346.00,124.84 L346.40,124.59 L346.80,124.51 L347.20,124.53 L347.60,124.92 L348.00,125.35 L348.40,124.48 L348.80,124.66 L349.20,124.57 L349.60,124.06 L350.00,124.77 L350.40,125.05 L350.80,124.22 L351.20,125.01 L351.60,124.32 L352.00,125.14 L352.40,125.16 L352.80,124.37 L353.20,123.56 L353.60,124.35 L354.00,123.83 L354.40,123.85 L354.80,124.36 L355.20,125.14 L355.60,124.41 L356.00,124.33 L356.40,123.51 L356.80,124.11 L357.20,123.70 L357.60,124.64 L358.00,124.11 L358.40,124.33 L358.80,124.33 L359.20,124.23 L359.60,124.79 L360.00,124.54 L360.40,124.11 L360.80,124.33 L361.20,124.52 L361.60,124.91 L362.00,124.26 L362.40,124.91 L362.80,123.84 L363.20,124.00 L363.60,123.33 L364.00,124.50 L364.40,123.52 L364.80,123.50 L365.20,124.45 L365.60,123.71 L366.00,123.57 L366.40,124.44 L366.80,123.83 L367.20,124.38 L367.60,123.67 L368.00,124.24 L368.40,124.40 L368.80,123.85 L369.20,124.74 L369.60,123.56 L370.00,123.63 L370.40,123.76 L370.80,124.24 L371.20,123.52 L371.60,123.42 L372.00,123.77 L372.40,124.29 L372.80,123.36 L373.20,122.87 L373.60,123.47 L374.00,123.86 L374.40,123.20 L374.80,123.55 L375.20,122.43 L375.60,123.44 L376.00,123.47 L376.40,123.73 L376.80,123.54 L377.20,123.77 L377.60,122.77 L378.00,123.67 L378.40,122.36 L378.80,122.92 L379.20,123.85 L379.60,123.68 L380.00,122.15 L380.40,123.49 L380.80,122.89 L381.20,122.68 L381.60,123.21 L382.00,123.14 L382.40,123.83 L382.80,122.20 L383.20,122.75 L383.60,122.89 L384.00,121.90 L384.40,123.60 L384.80,123.91 L385.20,122.52 L385.60,123.08 L386.00,122.68 L386.40,122.97 L386.80,122.40 L387.20,123.24 L387.60,122.06 L388.00,123.51 L388.40,122.90 L388.80,124.08 L389.20,121.67 L389.60,122.54 L390.00,121.78 L390.40,122.39 L390.80,122.65 L391.20,121.76 L391.60,121.36 L392.00,121.08 L392.40,122.14 L392.80,122.67 L393.20,122.51 L393.60,121.73 L394.00,121.04 L394.40,121.30 L394.80,120.51 L395.20,120.34 L395.60,121.94 L396.00,120.77 L396.40,120.76 L396.80,119.64 L397.20,120.15 L397.60,119.25 L398.00,115.93 L398.40,114.84 L398.80,112.98 L399.20,113.65 L399.60,112.19 L400.00,109.04 L400.40,110.87 L400.80,106.89 L401.20,104.21 L401.60,102.11 L402.00,103.39 L402.40,102.95 L402.80,100.83 L403.20,101.03 L403.60,101.12 L404.00,98.61 L404.40,98.83 L404.80,98.97 L405.20,96.58 L405.60,94.37 L406.00,94.93 L406.40,94.40 L406.80,95.90 L407.20,92.01 L407.60,90.08 L408.00,92.14 L408.40,91.78 L408.80,90.40 L409.20,91.33 L409.60,90.63 L410.00,91.50 L410.40,88.41 L410.80,88.33 L411.20,89.03 L411.60,88.16 L412.00,90.48 L412.40,89.37 L412.80,88.39 L413.20,90.44 L413.60,88.85 L414.00,89.42 L414.40,89.01 L414.80,87.55 L415.20,87.51 L415.60,87.73 L416.00,86.20 L416.40,87.40 L416.80,89.33 L417.20,88.76 L417.60,87.14 L418.00,92.30 L418.40,87.39 L418.80,89.91 L419.20,90.03 L419.60,90.74 L420.00,87.27 L420.40,88.29 L420.80,87.55 L421.20,89.19 L421.60,87.61 L422.00,87.25 L422.40,87.03 L422.80,88.85 L423.20,86.43 L423.60,86.33 L424.00,83.01 L424.40,85.12 L424.80,81.54 L425.20,84.55 L425.60,82.76 L426.00,80.55 L426.40,79.58 L426.80,80.77 L427.20,80.59 L427.60,78.92 L428.00,78.77 L428.40,78.27 L428.80,77.38 L429.20,77.45 L429.60,77.74 L430.00,79.02 L430.40,77.45 L430.80,74.94 L431.20,78.29 L431.60,77.12 L432.00,74.24 L432.40,76.18 L432.80,73.23 L433.20,72.68 L433.60,72.66 L434.00,76.84 L434.40,74.26 L434.80,74.67 L435.20,74.32 L435.60,73.55 L436.00,75.27 L436.40,75.72 L436.80,78.19 L437.20,73.09 L437.60,77.62 L438.00,76.12 L438.40,71.73 L438.80,76.92 L439.20,78.26 L439.60,77.40 L440.00,75.90 L440.40,75.86 L440.80,71.84 L441.20,76.40 L441.60,76.24 L442.00,74.19 L442.40,76.51 L442.80,74.93 L443.20,80.81 L443.60,74.03 L444.00,74.76" fill="none" stroke="#cc1f42" stroke-width="1.35"/>
<line x1="457.8" y1="44.7" x2="466.6" y2="44.7" stroke="#a8405e" stroke-width="1.2"/>
<line x1="457.8" y1="59.4" x2="466.6" y2="59.4" stroke="#6e8f78" stroke-width="1.2"/>
<line x1="457.8" y1="74.1" x2="466.6" y2="74.1" stroke="#5fa3b5" stroke-width="1.2"/>
<text x="470.6" y="47.5" font-size="9.7" text-anchor="start" font-weight="normal" fill="#222" textLength="22.5" lengthAdjust="spacingAndGlyphs" stroke="#222" stroke-width="0.2">CTRL</text>
<text x="470.6" y="62.4" font-size="9.7" text-anchor="start" font-weight="normal" fill="#222" textLength="35.3" lengthAdjust="spacingAndGlyphs" stroke="#222" stroke-width="0.2">Anti-TFPI</text>
<text x="470.6" y="77.1" font-size="9.7" text-anchor="start" font-weight="normal" fill="#222" textLength="41.2" lengthAdjust="spacingAndGlyphs" stroke="#222" stroke-width="0.2">Andexanet</text>
<line x1="457.8" y1="94.2" x2="466.6" y2="94.2" stroke="#c8a850" stroke-width="1.2"/>
<text x="470.6" y="90.2" font-size="9.7" text-anchor="start" font-weight="normal" fill="#222" textLength="41.2" lengthAdjust="spacingAndGlyphs" stroke="#222" stroke-width="0.2">Anti-TFPI+</text>
<text x="470.6" y="102.5" font-size="9.7" text-anchor="start" font-weight="normal" fill="#222" textLength="41.2" lengthAdjust="spacingAndGlyphs" stroke="#222" stroke-width="0.2">Andexanet</text>
<text x="8.0" y="187.4" font-size="13.4" text-anchor="start" font-weight="bold" fill="#000" stroke="#000" stroke-width="0.35">B</text>
<line x1="46.5" y1="226.1" x2="46.5" y2="320.8" stroke="#151515" stroke-width="1.25"/>
<line x1="43.2" y1="320.8" x2="46.5" y2="320.8" stroke="#151515" stroke-width="1.25"/>
<text x="39.5" y="324.0" font-size="9.4" text-anchor="end" font-weight="normal" fill="#333" stroke="#333" stroke-width="0.2">100</text>
<line x1="43.2" y1="290.26666666666665" x2="46.5" y2="290.26666666666665" stroke="#151515" stroke-width="1.25"/>
<text x="39.5" y="293.46666666666664" font-size="9.4" text-anchor="end" font-weight="normal" fill="#333" stroke="#333" stroke-width="0.2">150</text>
<line x1="43.2" y1="259.73333333333335" x2="46.5" y2="259.73333333333335" stroke="#151515" stroke-width="1.25"/>
<text x="39.5" y="262.93333333333334" font-size="9.4" text-anchor="end" font-weight="normal" fill="#333" stroke="#333" stroke-width="0.2">200</text>
<line x1="43.2" y1="229.2" x2="46.5" y2="229.2" stroke="#151515" stroke-width="1.25"/>
<text x="39.5" y="232.39999999999998" font-size="9.4" text-anchor="end" font-weight="normal" fill="#333" stroke="#333" stroke-width="0.2">250</text>
<line x1="43.5" y1="320.8" x2="138" y2="320.8" stroke="#151515" stroke-width="1.25"/>
<line x1="60.8" y1="320.8" x2="60.8" y2="323.8" stroke="#151515" stroke-width="1.25"/>
<line x1="81.9" y1="320.8" x2="81.9" y2="323.8" stroke="#151515" stroke-width="1.25"/>
<line x1="103.0" y1="320.8" x2="103.0" y2="323.8" stroke="#151515" stroke-width="1.25"/>
<line x1="124.3" y1="320.8" x2="124.3" y2="323.8" stroke="#151515" stroke-width="1.25"/>
<text x="16.2" y="274.6" font-size="9.6" text-anchor="middle" font-weight="normal" fill="#222" textLength="41.8" lengthAdjust="spacingAndGlyphs" transform="rotate(-90 16.2 274.6)" stroke="#222" stroke-width="0.32">Lag time (s)</text>
<text x="64.0" y="334.6" font-size="9.4" text-anchor="end" font-weight="normal" fill="#222" textLength="21.5" lengthAdjust="spacingAndGlyphs" transform="rotate(-45 64.0 334.6)" stroke="#222" stroke-width="0.3">CTRL</text>
<text x="85.1" y="334.6" font-size="9.4" text-anchor="end" font-weight="normal" fill="#222" textLength="34.0" lengthAdjust="spacingAndGlyphs" transform="rotate(-45 85.1 334.6)" stroke="#222" stroke-width="0.3">Anti-TFPI</text>
<text x="106.2" y="334.6" font-size="9.4" text-anchor="end" font-weight="normal" fill="#222" textLength="40.5" lengthAdjust="spacingAndGlyphs" transform="rotate(-45 106.2 334.6)" stroke="#222" stroke-width="0.3">Andexanet</text>
<text x="127.5" y="334.6" font-size="9.4" text-anchor="end" font-weight="normal" fill="#222" textLength="86.5" lengthAdjust="spacingAndGlyphs" transform="rotate(-45 127.5 334.6)" stroke="#222" stroke-width="0.3">Anti-TFPI + Andexanet</text>
<path d="M61.5,206.7 L61.5,202.5 L124.5,202.5 L124.5,206.7" fill="none" stroke="#222" stroke-width="1.1"/>
<path d="M61.5,218.0 L61.5,213.8 L103.5,213.8 L103.5,218.0" fill="none" stroke="#222" stroke-width="1.1"/>
<path d="M60.5,227.9 L60.5,223.4 L82.3,223.4 L82.3,227.9" fill="none" stroke="#222" stroke-width="1.1"/>
<path d="M81.9,246.5 L81.9,242.6 L124.8,242.6 L124.8,246.5" fill="none" stroke="#222" stroke-width="1.1"/>
<path d="M81.3,254.29999999999998 L81.3,250.7 L100.1,250.7 L100.1,254.29999999999998" fill="none" stroke="#222" stroke-width="1.1"/>
<path d="M106.5,254.29999999999998 L106.5,250.7 L124.6,250.7 L124.6,254.29999999999998" fill="none" stroke="#222" stroke-width="1.1"/>
<circle cx="91.7" cy="197.4" r="1.15" fill="#111"/>
<circle cx="81.1" cy="208.5" r="1.15" fill="#111"/>
<circle cx="84.6" cy="208.5" r="1.15" fill="#111"/>
<circle cx="71.7" cy="218.7" r="1.15" fill="#111"/>
<text x="102.1" y="240.1" font-size="8.6" text-anchor="middle" font-weight="normal" fill="#222" textLength="16.2" lengthAdjust="spacingAndGlyphs" stroke="#222" stroke-width="0.2">N.S.</text>
<line x1="54.0" y1="259.9" x2="67.8" y2="259.9" stroke="#222" stroke-width="1.2"/>
<line x1="75.2" y1="284.7" x2="88.5" y2="284.7" stroke="#222" stroke-width="1.2"/>
<line x1="96.4" y1="286.8" x2="109.6" y2="286.8" stroke="#222" stroke-width="1.2"/>
<line x1="117.7" y1="289.4" x2="131.0" y2="289.4" stroke="#222" stroke-width="1.2"/>
<circle cx="60.8" cy="243.1" r="2.3" fill="none" stroke="#9c2842" stroke-width="1.25"/>
<circle cx="60.8" cy="259.9" r="2.3" fill="none" stroke="#9c2842" stroke-width="1.25"/>
<circle cx="60.8" cy="279.9" r="2.3" fill="none" stroke="#9c2842" stroke-width="1.25"/>
<circle cx="81.9" cy="277.3" r="2.3" fill="none" stroke="#9c2842" stroke-width="1.25"/>
<circle cx="81.9" cy="284.7" r="2.3" fill="none" stroke="#9c2842" stroke-width="1.25"/>
<circle cx="81.9" cy="304.0" r="2.3" fill="none" stroke="#9c2842" stroke-width="1.25"/>
<circle cx="103.0" cy="272.1" r="2.3" fill="none" stroke="#9c2842" stroke-width="1.25"/>
<circle cx="103.0" cy="286.8" r="2.3" fill="none" stroke="#9c2842" stroke-width="1.25"/>
<circle cx="103.0" cy="304.0" r="2.3" fill="none" stroke="#9c2842" stroke-width="1.25"/>
<circle cx="124.3" cy="277.3" r="2.3" fill="none" stroke="#9c2842" stroke-width="1.25"/>
<circle cx="124.3" cy="289.4" r="2.3" fill="none" stroke="#9c2842" stroke-width="1.25"/>
<circle cx="124.3" cy="304.0" r="2.3" fill="none" stroke="#9c2842" stroke-width="1.25"/>
<text x="284.6" y="188.3" font-size="13.4" text-anchor="start" font-weight="bold" fill="#000" stroke="#000" stroke-width="0.35">D</text>
<line x1="328.5" y1="230.2" x2="328.5" y2="323.0" stroke="#151515" stroke-width="1.25"/>
<line x1="325.1" y1="323.0" x2="328.5" y2="323.0" stroke="#151515" stroke-width="1.25"/>
<text x="321.8" y="326.2" font-size="9.4" text-anchor="end" font-weight="normal" fill="#333" stroke="#333" stroke-width="0.2">0</text>
<line x1="325.1" y1="292.8666666666667" x2="328.5" y2="292.8666666666667" stroke="#151515" stroke-width="1.25"/>
<text x="321.8" y="296.06666666666666" font-size="9.4" text-anchor="end" font-weight="normal" fill="#333" stroke="#333" stroke-width="0.2">1000</text>
<line x1="325.1" y1="262.73333333333335" x2="328.5" y2="262.73333333333335" stroke="#151515" stroke-width="1.25"/>
<text x="321.8" y="265.93333333333334" font-size="9.4" text-anchor="end" font-weight="normal" fill="#333" stroke="#333" stroke-width="0.2">2000</text>
<line x1="325.1" y1="232.6" x2="328.5" y2="232.6" stroke="#151515" stroke-width="1.25"/>
<text x="321.8" y="235.79999999999998" font-size="9.4" text-anchor="end" font-weight="normal" fill="#333" stroke="#333" stroke-width="0.2">3000</text>
<line x1="325.0" y1="323.0" x2="420.4" y2="323.0" stroke="#151515" stroke-width="1.25"/>
<line x1="342.6" y1="323.0" x2="342.6" y2="326.1" stroke="#151515" stroke-width="1.25"/>
<line x1="363.6" y1="323.0" x2="363.6" y2="326.1" stroke="#151515" stroke-width="1.25"/>
<line x1="384.7" y1="323.0" x2="384.7" y2="326.1" stroke="#151515" stroke-width="1.25"/>
<line x1="405.5" y1="323.0" x2="405.5" y2="326.1" stroke="#151515" stroke-width="1.25"/>
<text x="293.6" y="276.6" font-size="9.6" text-anchor="middle" font-weight="normal" fill="#222" textLength="40.4" lengthAdjust="spacingAndGlyphs" transform="rotate(-90 293.6 276.6)" stroke="#222" stroke-width="0.32">Lag time (s)</text>
<text x="346.2" y="335.2" font-size="9.4" text-anchor="end" font-weight="normal" fill="#222" textLength="21.5" lengthAdjust="spacingAndGlyphs" transform="rotate(-45 346.2 335.2)" stroke="#222" stroke-width="0.3">CTRL</text>
<text x="367.2" y="335.2" font-size="9.4" text-anchor="end" font-weight="normal" fill="#222" textLength="34.0" lengthAdjust="spacingAndGlyphs" transform="rotate(-45 367.2 335.2)" stroke="#222" stroke-width="0.3">Anti-TFPI</text>
<text x="388.3" y="335.2" font-size="9.4" text-anchor="end" font-weight="normal" fill="#222" textLength="40.5" lengthAdjust="spacingAndGlyphs" transform="rotate(-45 388.3 335.2)" stroke="#222" stroke-width="0.3">Andexanet</text>
<text x="409.1" y="335.2" font-size="9.4" text-anchor="end" font-weight="normal" fill="#222" textLength="86.5" lengthAdjust="spacingAndGlyphs" transform="rotate(-45 409.1 335.2)" stroke="#222" stroke-width="0.3">Anti-TFPI + Andexanet</text>
<line x1="335.9" y1="254.8" x2="349.4" y2="254.8" stroke="#222" stroke-width="1.2"/>
<line x1="357.0" y1="290.8" x2="370.2" y2="290.8" stroke="#222" stroke-width="1.2"/>
<line x1="378.2" y1="300.9" x2="391.4" y2="300.9" stroke="#222" stroke-width="1.2"/>
<line x1="398.8" y1="301.9" x2="412.2" y2="301.9" stroke="#222" stroke-width="1.2"/>
<circle cx="342.6" cy="245.9" r="2.3" fill="none" stroke="#9c2842" stroke-width="1.25"/>
<circle cx="342.6" cy="264.1" r="2.3" fill="none" stroke="#9c2842" stroke-width="1.25"/>
<circle cx="363.6" cy="276.2" r="2.3" fill="none" stroke="#9c2842" stroke-width="1.25"/>
<circle cx="358.8" cy="291.3" r="2.3" fill="none" stroke="#9c2842" stroke-width="1.25"/>
<circle cx="368.3" cy="290.5" r="2.3" fill="none" stroke="#9c2842" stroke-width="1.25"/>
<circle cx="379.5" cy="300.4" r="2.3" fill="none" stroke="#9c2842" stroke-width="1.25"/>
<circle cx="384.8" cy="306.5" r="2.3" fill="none" stroke="#9c2842" stroke-width="1.25"/>
<circle cx="389.6" cy="300.9" r="2.3" fill="none" stroke="#9c2842" stroke-width="1.25"/>
<circle cx="400.7" cy="301.4" r="2.3" fill="none" stroke="#9c2842" stroke-width="1.25"/>
<circle cx="400.7" cy="306.5" r="2.3" fill="none" stroke="#9c2842" stroke-width="1.25"/>
<circle cx="410.3" cy="302.2" r="2.3" fill="none" stroke="#9c2842" stroke-width="1.25"/>
<rect x="0.5" y="0.5" width="519" height="407" fill="none" stroke="#464646" stroke-width="1"/>
</svg>
</body></html>
